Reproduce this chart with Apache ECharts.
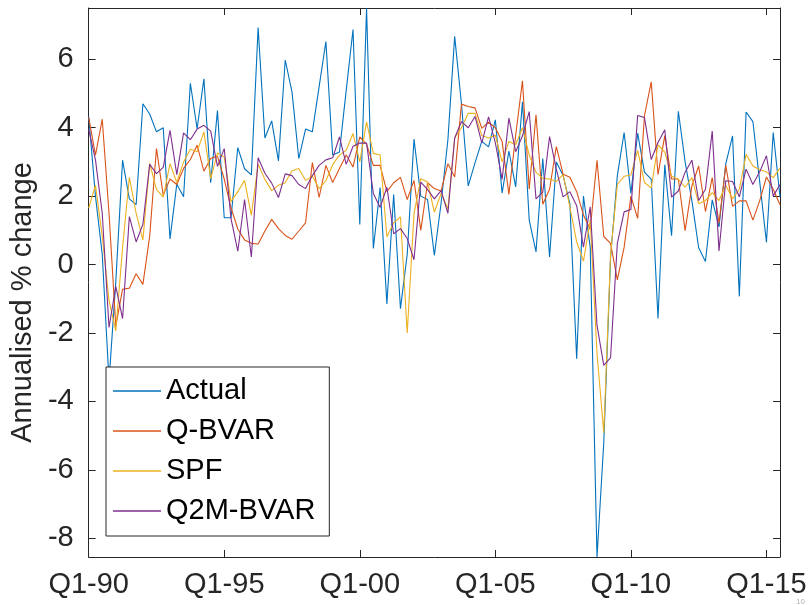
<!DOCTYPE html>
<html>
<head>
<meta charset="utf-8">
<script src="https://cdn.jsdelivr.net/npm/echarts@6/dist/echarts.min.js"></script>
<style>
  html, body { margin: 0; padding: 0; background: #ffffff; }
  #chart { width: 810px; height: 605px; }
</style>
</head>
<body>
<div id="chart"></div>
<script>
// Quarterly GDP growth, 1990Q1 to 2015Q3: outturn and three nowcasts
const seriesNames = ['Actual', 'Q-BVAR', 'SPF', 'Q2M-BVAR'];
const seriesColors = ['#0072BD', '#D95319', '#EDB120', '#7E2F8E'];

const actual = [
  4.33, 2.0, 0.3, -3.4, -0.5, 3.05, 1.92, 1.75, 4.7, 4.4,
  3.88, 4.0, 0.75, 2.35, 1.98, 5.3, 3.97, 5.43, 2.39, 4.5,
  1.37, 1.37, 3.42, 2.8, 2.62, 6.93, 3.7, 4.2, 3.03, 5.98,
  5.04, 3.1, 3.96, 3.88, 5.2, 6.52, 3.2, 3.29, 5.1, 6.87,
  1.17, 7.49, 0.47, 2.25, -1.15, 2.05, -1.29, 0.3, 3.67, 2.0,
  1.9, 0.27, 1.8, 3.65, 6.67, 4.7, 2.3, 2.97, 3.6, 3.44,
  4.23, 2.09, 3.32, 2.27, 4.76, 1.3, 0.37, 3.1, 0.22, 3.0,
  2.6, 1.77, -2.75, 2.0, 0.5, -8.55, -5.2, 0.2, 2.6, 3.86,
  2.08, 3.84, 2.7, 2.5, -1.58, 2.92, 0.84, 4.48, 3.0, 1.87,
  0.49, 0.09, 1.89, 1.1, 2.94, 3.76, -0.93, 4.46, 4.18, 2.43,
  0.65, 3.86, 1.98
];

const qBvar = [
  4.3, 3.2, 4.25, 1.5, -1.8, -0.72, -0.69, -0.27, -0.58, 0.83,
  3.39, 2.03, 2.5, 2.34, 2.81, 3.07, 3.49, 2.73, 3.1, 3.17,
  2.5, 1.66, 1.04, 0.72, 0.62, 0.6, 0.98, 1.32, 1.05, 0.85,
  0.74, 0.98, 1.22, 2.98, 1.96, 2.9, 2.4, 2.81, 3.2, 2.85,
  3.73, 3.52, 2.9, 2.9, 2.13, 2.39, 2.55, 1.9, 2.46, 1.0,
  2.39, 2.22, 2.15, 2.95, 2.56, 4.69, 4.62, 4.58, 3.98, 4.16,
  4.0, 3.6, 2.05, 3.78, 5.37, 2.2, 4.38, 1.76, 2.2, 3.45,
  2.64, 2.55, 2.13, 1.45, 1.03, 3.05, 0.82, 0.62, -0.45, 0.5,
  2.0, 1.35, 4.35, 5.34, 2.63, 3.77, 2.5, 2.5, 0.99, 2.3,
  2.88, 1.55, 2.54, 1.21, 2.9, 1.7, 1.86, 1.86, 1.3, 1.86,
  2.56, 2.2, 1.75
];

const spf = [
  1.65, 2.32, 0.83, -1.05, -1.94, 0.5, 2.55, 1.5, 0.72, 2.96,
  2.2, 1.97, 2.95, 2.4, 3.0, 3.37, 3.3, 3.88, 2.51, 3.26,
  3.14, 1.84, 2.13, 2.46, 1.44, 2.93, 2.49, 2.16, 2.32, 2.39,
  2.74, 2.81, 2.46, 2.58, 2.22, 2.45, 2.92, 3.2, 3.34, 3.83,
  3.0, 4.17, 3.25, 3.2, 0.81, 1.22, 1.39, -2.0, 1.49, 2.51,
  2.41, 1.53, 2.08, 1.63, 3.7, 4.0, 4.42, 4.42, 3.77, 3.7,
  3.78, 3.0, 3.6, 3.5, 4.0, 3.2, 2.7, 2.52, 2.5, 2.43,
  2.63, 1.68, 0.66, 0.1, 1.3, -2.6, -4.92, 0.3, 2.34, 2.58,
  2.62, 3.34, 2.4, 2.24, 3.5, 3.29, 2.58, 2.49, 2.26, 2.54,
  1.78, 1.87, 2.1, 1.87, 2.32, 1.92, 2.2, 3.22, 2.88, 2.77,
  2.71, 2.54, 2.82
];

const q2mBvar = [
  3.95, 3.06, 1.5, -1.84, -0.64, -1.58, 1.4, 0.66, 1.18, 2.93,
  2.66, 2.84, 3.92, 2.63, 3.85, 3.65, 3.96, 4.07, 3.9, 2.87,
  3.39, 1.34, 0.39, 1.9, 0.22, 3.12, 2.67, 2.38, 1.96, 2.65,
  2.6, 2.34, 2.22, 2.6, 2.9, 3.06, 3.12, 3.73, 2.93, 3.46,
  3.55, 3.55, 2.08, 1.67, 2.26, 0.9, 1.05, 0.76, 0.14, 2.41,
  2.19, 1.92, 2.16, 1.5, 3.7, 4.18, 4.0, 4.33, 3.56, 4.32,
  3.56, 2.49, 4.28, 3.3, 3.76, 4.47, 1.92, 2.12, 3.74, 2.78,
  1.98, 2.13, 1.72, 0.51, 1.69, -1.78, -2.95, -2.72, 0.62, 1.54,
  1.61, 4.36, 4.3, 3.07, 3.57, 3.94, 1.97, 2.15, 2.7, 3.05,
  1.87, 2.2, 3.9, 0.4, 2.45, 2.43, 1.98, 2.79, 2.34, 2.71,
  3.18, 2.0, 2.34
];

// Quarter labels "Q1-90" ... one per observation
const quarters = [];
for (let year = 1990; quarters.length < actual.length; year++) {
  for (let q = 1; q <= 4 && quarters.length < actual.length; q++) {
    quarters.push('Q' + q + '-' + String(year).slice(2));
  }
}
const labelEvery = 20;           // a label every five years
const yTicks = [-8, -6, -4, -2, 0, 2, 4, 6];
const yMin = -8.55, yMax = 7.5;

const FONT = '"Liberation Sans", Arial, Helvetica, sans-serif';
const AXIS_COLOR = '#262626';

const showEvery = (idx) => idx % labelEvery === 0;

const chart = echarts.init(document.getElementById('chart'), null, { renderer: 'canvas' });

const valueLists = [actual, qBvar, spf, q2mBvar];

const frameLine = { show: true, onZero: false, lineStyle: { color: AXIS_COLOR, width: 1 } };

chart.setOption({
  animation: false,
  backgroundColor: '#ffffff',
  color: seriesColors,
  textStyle: { fontFamily: FONT },
  grid: { left: 86, right: 30, top: 8, bottom: 48, containLabel: false },
  legend: {
    orient: 'vertical',
    left: 106,
    top: 367,
    data: seriesNames,
    icon: 'rect',
    itemWidth: 48,
    itemHeight: 1.5,
    itemGap: 10,
    padding: [9, 14, 10, 7],
    borderColor: AXIS_COLOR,
    borderWidth: 1,
    borderRadius: 0,
    backgroundColor: '#ffffff',
    textStyle: { fontSize: 29, color: '#000000', fontFamily: FONT, lineHeight: 30 }
  },
  xAxis: [
    {
      type: 'category',
      position: 'bottom',
      data: quarters,
      boundaryGap: false,
      axisLine: frameLine,
      axisTick: { show: true, inside: true, length: 7, interval: showEvery, lineStyle: { color: AXIS_COLOR } },
      axisLabel: { show: true, interval: showEvery, margin: 13, fontSize: 29, color: AXIS_COLOR, fontFamily: FONT },
      splitLine: { show: false }
    },
    {
      type: 'category',
      position: 'top',
      data: quarters,
      boundaryGap: false,
      axisLine: frameLine,
      axisTick: { show: true, inside: true, length: 7, interval: showEvery, lineStyle: { color: AXIS_COLOR } },
      axisLabel: { show: false },
      splitLine: { show: false }
    }
  ],
  yAxis: [
    {
      type: 'value',
      position: 'left',
      min: yMin,
      max: yMax,
      name: 'Annualised % change',
      nameLocation: 'middle',
      nameGap: 42,
      nameRotate: 90,
      nameTextStyle: { fontSize: 29, color: AXIS_COLOR, fontFamily: FONT, padding: [0, 40, 0, 0] },
      axisLine: frameLine,
      axisTick: { show: true, inside: true, length: 7, customValues: yTicks, lineStyle: { color: AXIS_COLOR } },
      axisLabel: { show: true, customValues: yTicks, margin: 15, fontSize: 29, color: AXIS_COLOR, fontFamily: FONT },
      splitLine: { show: false }
    },
    {
      type: 'value',
      position: 'right',
      min: yMin,
      max: yMax,
      axisLine: frameLine,
      axisTick: { show: true, inside: true, length: 7, customValues: yTicks, lineStyle: { color: AXIS_COLOR } },
      axisLabel: { show: false },
      splitLine: { show: false }
    }
  ],
  series: seriesNames.map((name, k) => ({
    name: name,
    type: 'line',
    xAxisIndex: 0,
    yAxisIndex: 0,
    data: valueLists[k],
    symbol: 'none',
    showSymbol: false,
    smooth: false,
    clip: true,
    lineStyle: { width: 1.1, color: seriesColors[k] },
    emphasis: { disabled: true }
  })),
  graphic: [
    {
      type: 'text',
      left: 796,
      top: 598,
      silent: true,
      style: { text: '10', fontSize: 8, fill: '#b0b0b0', fontFamily: FONT }
    }
  ]
});
</script>
</body>
</html>
